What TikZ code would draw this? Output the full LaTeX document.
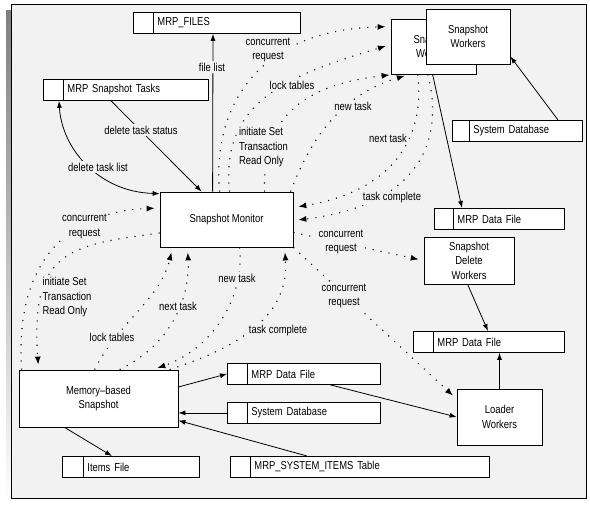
\documentclass[tikz,border=0pt]{standalone}
\usepackage{fontspec}
\setmainfont{Liberation Sans}[FakeStretch=0.82]
\usepackage{tikz}
\usetikzlibrary{arrows.meta}
\definecolor{panel}{gray}{0.95}
\definecolor{shade}{gray}{0.78}
\newcommand{\dfont}{\fontsize{11.5}{14.5}\selectfont}

\begin{document}
\begin{tikzpicture}[x=1pt, y=-1pt, line width=0.8pt, >={Latex[length=7pt,width=5pt]},
	proc/.style={draw, fill=white, font=\dfont, align=center, inner sep=0pt},
	store/.style={draw, fill=white, anchor=north west, minimum height=21pt, inner sep=0pt, font=\dfont, align=left,
		path picture={\draw ([xshift=#1]path picture bounding box.north west) -- ([xshift=#1]path picture bounding box.south west);},
		execute at begin node={\hspace*{\dimexpr #1+4pt\relax}}},
	store/.default=20pt,
	note/.style={fill=panel, font=\dfont, align=center, inner sep=1.5pt},
	conn/.style={->},
	flow/.style={-{Latex[length=8pt,width=6pt]}, line width=1.1pt, dash pattern=on 1.1pt off 7pt, shorten >=5pt}]
%	\draw [help lines] (0,0) grid (590,509);
	\useasboundingbox (0,0) rectangle (590,509);
	%Cornice
	\fill [shade] (6,10) rectangle (580,503);
	\draw [fill=panel] (11,4) rectangle (586,498);
	%Processi
	\node [proc, minimum width=133pt, minimum height=55pt] (mon) at (226.5,219.5) {Snapshot Monitor};
	\node [proc, minimum width=85pt, minimum height=55pt] (wkb) at (433.5,46.5) {Snapshot\\Workers};
	\node [proc, minimum width=84pt, minimum height=55pt] (wkf) at (468,36.5) {Snapshot\\Workers};
	\node [proc, minimum width=90pt, minimum height=47pt] (sdw) at (469,260.5) {Snapshot\\Delete\\Workers};
	\node [proc, minimum width=85pt, minimum height=56pt] (ldr) at (499.5,417) {Loader\\Workers};
	\node [proc, minimum width=159pt, minimum height=57pt] (mem) at (98.5,398.5) {Memory--based\\Snapshot};
	%Archivi
	\node [store, text width=167pt] (files) at (133,12) {MRP\_FILES};
	\node [store, text width=165pt] (tasks) at (43,79) {MRP Snapshot Tasks};
	\node [store=17pt, text width=130pt] (sysdbw) at (452,120) {System Database};
	\node [store=19pt, text width=130pt] (datw) at (434,208) {MRP Data File};
	\node [store, text width=151pt] (datd) at (413,331) {MRP Data File};
	\node [store, text width=153pt] (datm) at (227,363) {MRP Data File};
	\node [store, text width=153pt] (sysdbm) at (227,402) {System Database};
	\node [store=21pt, text width=137pt] (items) at (62,456) {Items File};
	\node [store, text width=259pt] (sysitems) at (230,456) {MRP\_SYSTEM\_ITEMS Table};
	%Flussi dati
	\draw [conn] ([xshift=53pt]mon.north west) -- ([xshift=80pt]files.south west);
	\draw [conn] ([xshift=68pt]tasks.south west) -- ([xshift=42pt]mon.north west);
	\draw [conn, <->] ([xshift=16pt]tasks.south west) .. controls (62,150) and (100,192) .. ([yshift=-2pt]mon.north west);
	\draw [conn] ([xshift=42pt]wkb.south west) -- ([xshift=28pt]datw.north west);
	\draw [conn] ([xshift=106pt]sysdbw.north west) -- ([yshift=-20pt]wkf.east);
	\draw [conn] ([xshift=44pt]sdw.south west) -- ([xshift=75pt]datd.north west);
	\draw [conn] (ldr.north) -- (ldr.north |- datd.south);
	\draw [conn] ([xshift=103pt]datm.south west) -- (ldr.west);
	\draw [conn] ([yshift=11.5pt]mem.east) -- (datm.west);
	\draw [conn] (sysdbm.west) -- (mem.east |- sysdbm.west);
	\draw [conn] ([xshift=77pt]sysitems.north west) -- ([yshift=-22pt]mem.east);
	\draw [conn] ([xshift=46pt]mem.south west) -- ([xshift=50pt]items.north west);
	%Controllo verso i workers
	\draw [flow] ([xshift=60pt]mon.north west) .. controls (212,110) and (255,30) .. ([yshift=-8pt]wkb.north west);
	\draw [flow] ([xshift=70pt]mon.north west) .. controls (220,100) and (290,75) .. ([yshift=-26pt]wkb.north west);
	\draw [flow] ([xshift=105pt]mon.north west) .. controls (262,120) and (300,85) .. ([xshift=4pt]wkb.south west);
	\draw [flow] ([xshift=131pt]mon.north west) .. controls (310,140) and (340,95) .. ([xshift=19pt]wkb.south west);
	\draw [flow] ([xshift=27pt]wkb.south west) .. controls (425,130) and (400,190) .. ([yshift=12pt]mon.east);
	\draw [flow] ([xshift=37pt]wkb.south west) .. controls (445,140) and (420,205) .. ([yshift=-1pt]mon.east);
	\draw [flow] ([yshift=-13pt]mon.east) -- (sdw.west);
	\draw [flow] (mon.south east) -- ([yshift=18pt]ldr.west);
	%Controllo verso lo snapshot
	\draw [flow] ([xshift=3pt]mem.north west) .. controls (15,270) and (60,212) .. ([yshift=11.5pt]mon.west);
	\draw [flow] ([yshift=-13.5pt]mon.west) .. controls (70,245) and (30,250) .. ([xshift=20pt]mem.north west);
	\draw [flow] ([xshift=76pt]mem.north west) .. controls (120,320) and (160,300) .. ([xshift=13pt]mon.south west);
	\draw [flow] ([xshift=101pt]mem.north west) .. controls (170,345) and (190,300) .. ([xshift=28pt]mon.south west);
	\draw [flow] ([xshift=80pt]mon.south west) .. controls (245,300) and (210,350) .. ([xshift=134pt]mem.north west);
	\draw [flow] ([xshift=151pt]mem.north west) .. controls (230,350) and (290,320) .. ([xshift=125pt]mon.south west);
	%Etichette
	\node [note] (lfile) at (212,67) {file list};
	\node [note] (ldts) at (141,130) {delete task status};
	\node [note] (ldtl) at (98,167) {delete task list};
	\node [note] (lcrw) at (268,50) {concurrent\\request};
	\node [note] (lltw) at (292,85) {lock tables};
	\node [note, align=left] (lisw) at (263.5,147.5) {initiate Set\\Transaction\\Read Only};
	\node [note] (lnww) at (353,106) {new task};
	\node [note] (lnxw) at (388,138) {next task};
	\node [note] (ltcw) at (392,198) {task complete};
	\node [note] (lcrd) at (341,242) {concurrent\\request};
	\node [note] (lcrl) at (344,296) {concurrent\\request};
	\node [note] (lcrm) at (84.5,226.5) {concurrent\\request};
	\node [note, align=left] (lism) at (67,297.5) {initiate Set\\Transaction\\Read Only};
	\node [note] (lltm) at (112,337) {lock tables};
	\node [note] (lnxm) at (178,306) {next task};
	\node [note] (lnwm) at (237,278) {new task};
	\node [note] (ltcm) at (278,331) {task complete};
\end{tikzpicture}
\end{document}
